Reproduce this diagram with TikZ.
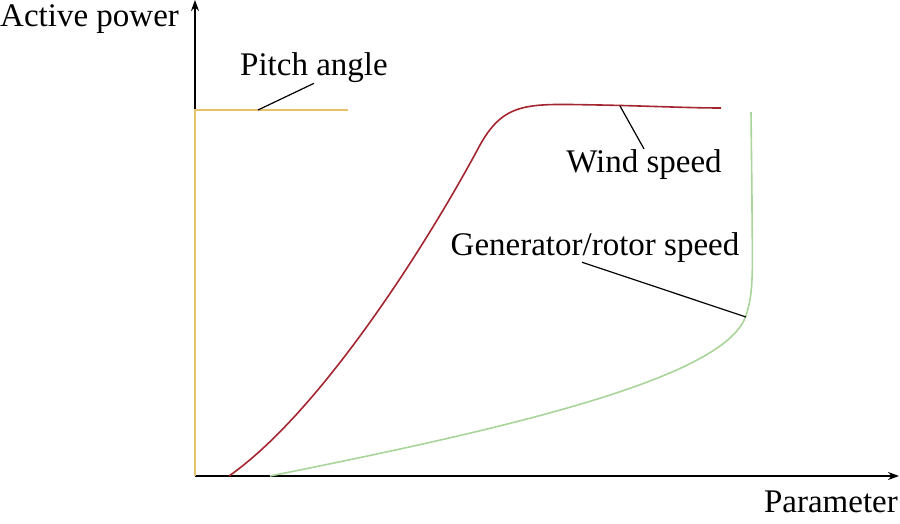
\documentclass[tikz,border=0pt]{standalone}
\usepackage{fontspec}
\setmainfont{Liberation Serif}
\usetikzlibrary{arrows.meta}
\definecolor{pitchcol}{HTML}{E6C36B}
\definecolor{windcol}{HTML}{A32631}
\definecolor{gencol}{HTML}{A9D49A}
\begin{document}
\begin{tikzpicture}[x=1pt,y=-1pt,
    lbl/.style={inner sep=0pt,anchor=base,font=\fontsize{33}{40}\selectfont},
    curve/.style={line width=1.6pt}]
        \useasboundingbox (0,0) rectangle (900,524);

        % Draw x and y axes
        \coordinate (origin) at (195,476);
        \coordinate (ytip) at (195,0);
        \coordinate (xtip) at (899,476);
        \draw[line width=1.8pt,-{Stealth[length=11pt,width=8pt]}] (origin) -- (ytip);
        \draw[line width=1.8pt,-{Stealth[length=11pt,width=8pt]}] (origin) -- (xtip);
        \node[lbl,anchor=base west] (ylabel) at (0,27) {Active power};
        \node[lbl,anchor=base east] (xlabel) at (898,512) {Parameter};

        % Pitch angle
        \draw[curve,pitchcol] (origin) -- (195,110) -- (348,110);
        \coordinate (pitchpt) at (258,110);
        \node[lbl] (pitchlabel) at (314,76) {Pitch angle};
        \draw[line width=1.2pt] (pitchlabel.south) -- (pitchpt);

        % Wind speed
        \draw[curve,windcol] (229,476) .. controls (319,413) and (425,248) .. (480,145)
            .. controls (505,100) and (530,104) .. (600,105)
            .. controls (650,106) and (690,108) .. (721,108);
        \coordinate (windpt) at (620,106);
        \node[lbl] (windlabel) at (644,172) {Wind speed};
        \draw[line width=1.2pt] (windlabel.north) -- (windpt);

        % Generator/rotor speed
        \draw[curve,gencol] (270,476) .. controls (500,430) and (720,380) .. (745,318)
            .. controls (755,293) and (752,260) .. (752,200) -- (751,112);
        \coordinate (genpt) at (746,317);
        \node[lbl] (genlabel) at (595,255) {Generator/rotor speed};
        \draw[line width=1.2pt] ([xshift=-13pt]genlabel.south) -- (genpt);
    \end{tikzpicture}
\end{document}
